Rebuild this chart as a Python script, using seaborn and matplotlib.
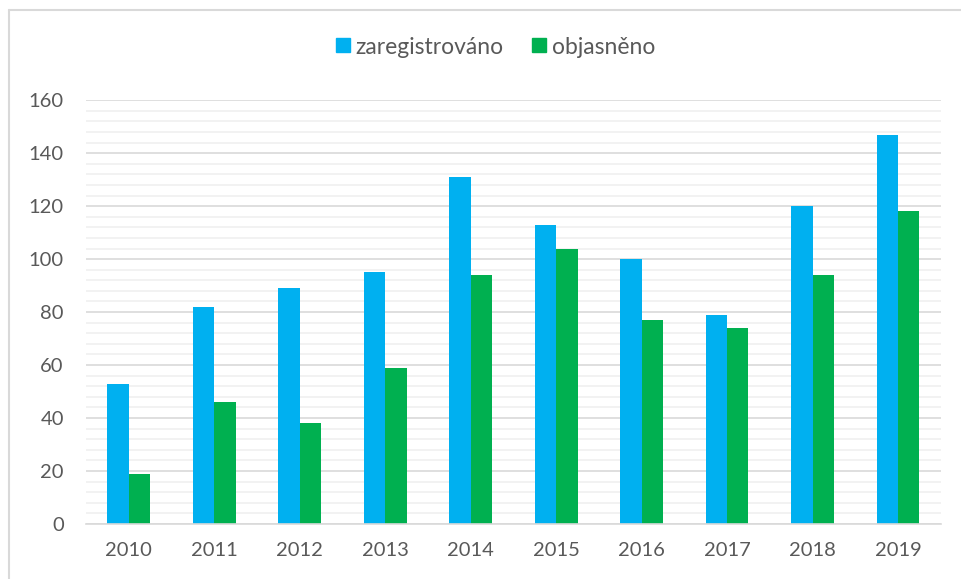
import pandas as pd
import numpy as np
import matplotlib.pyplot as plt
import seaborn as sns
from matplotlib.ticker import MultipleLocator
from matplotlib.lines import Line2D

sns.set_style('white')
plt.rcParams['font.family'] = ['Lato', 'DejaVu Sans']

years = ['2010', '2011', '2012', '2013', '2014', '2015', '2016', '2017', '2018', '2019']
zaregistrovano = [53, 82, 89, 95, 131, 113, 100, 79, 120, 147]
objasneno = [19, 46, 38, 59, 94, 104, 77, 74, 94, 118]
series = ['zaregistrováno', 'objasněno']

df = pd.DataFrame({
    'rok': years * 2,
    'pocet': zaregistrovano + objasneno,
    'serie': [series[0]] * len(years) + [series[1]] * len(years),
})

fig = plt.figure(figsize=(9.61, 5.79), dpi=100)
ax = fig.add_axes([0.0895, 0.095, 0.8895, 0.732])

sns.barplot(data=df, x='rok', y='pocet', hue='serie', palette=['#00B0F0', '#00B050'],
            width=0.5, saturation=1, edgecolor='none', ax=ax, legend=False)

ax.set_ylim(0, 160)
ax.set_xlim(-0.5, 9.5)
ax.yaxis.set_major_locator(MultipleLocator(20))
ax.yaxis.set_minor_locator(MultipleLocator(4))
ax.grid(which='major', axis='y', color='#d9d9d9', lw=1.2)
ax.grid(which='minor', axis='y', color='#f0f0f0', lw=1.2)
ax.set_axisbelow(True)
for s in ['top', 'right', 'left']:
    ax.spines[s].set_visible(False)
ax.spines['bottom'].set_color('#d9d9d9')
ax.spines['bottom'].set_linewidth(1.2)
ax.tick_params(axis='both', which='both', length=0, labelsize=14.5, colors='#595959')
ax.tick_params(axis='x', pad=13)
ax.tick_params(axis='y', pad=16)
ax.set_xlabel('')
ax.set_ylabel('')

handles = [Line2D([], [], marker='s', ls='none', markersize=10.5, color=c) for c in ['#00B0F0', '#00B050']]
fig.legend(handles, series, loc='center', bbox_to_anchor=(0.515, 1 - 47 / 579), ncol=2,
           frameon=False, fontsize=16.5, labelcolor='#595959', handlelength=0.7,
           handletextpad=0.2, columnspacing=1.2)

# chart frame like the source
fig.add_artist(Line2D([9 / 961, 9 / 961], [0, 1 - 10 / 579], color='#d9d9d9', lw=1.5, transform=fig.transFigure))
fig.add_artist(Line2D([9 / 961, 1], [1 - 10 / 579, 1 - 10 / 579], color='#d9d9d9', lw=1.5, transform=fig.transFigure))

fig.savefig('out.png', dpi=100)
